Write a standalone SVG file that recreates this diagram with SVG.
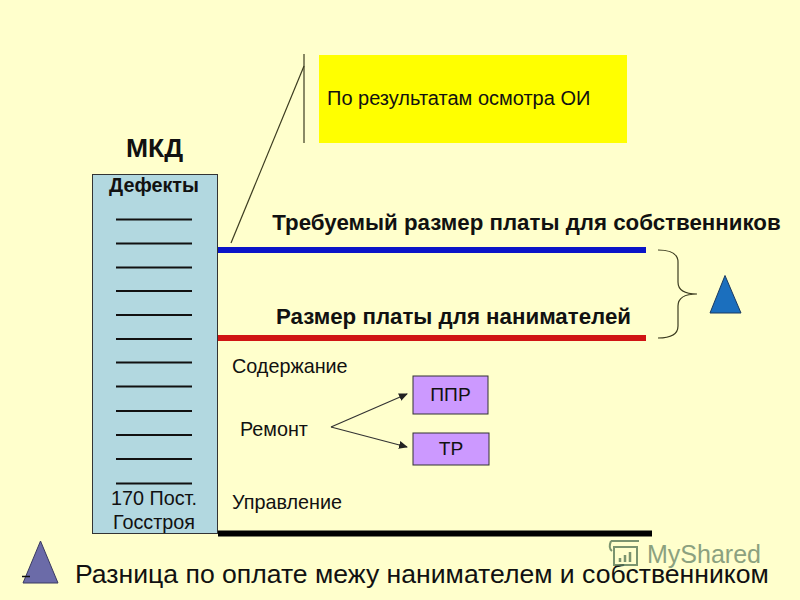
<svg xmlns="http://www.w3.org/2000/svg" width="800" height="600" viewBox="0 0 800 600">
<style>
text{font-family:"Liberation Sans",Arial,sans-serif;fill:#111}
.b{font-weight:bold}
.m{text-anchor:middle}
.l{font-size:19.800px}
.dash{stroke:#111;stroke-width:2}
.thin{stroke:#3c3c20;stroke-width:1.200;fill:none}
.box{fill:#cc99ff;stroke:#333;stroke-width:1}
.arr{stroke:#333;stroke-width:1.200;fill:none;marker-end:url(#ah)}
</style>
<defs>
<marker id="ah" markerWidth="9" markerHeight="8" refX="8" refY="4" orient="auto" markerUnits="userSpaceOnUse"><path d="M0 0L9 4L0 8z" fill="#222"/></marker>
</defs>
<rect width="800" height="600" fill="#ffffcc"/>
<g id="title-mkd"><text x="154.500" y="157" class="b m" font-size="26.500">МКД</text></g>
<g id="defects">
<rect x="92.500" y="174.500" width="125" height="359" fill="#b2d8e0" stroke="#333" stroke-width="1"/>
<text x="154" y="192" class="b m" font-size="19.800">Дефекты</text>
<path class="dash" d="M116 219.500H192M116 243.500H192M116 267.500H192M116 291H192M116 315H192M116 339H192M116 362.500H192M116 386.500H192M116 411H192M116 435H192M116 459H192M116 483.500H192"/>
<text x="154" y="505" class="m l">170 Пост.</text>
<text x="154" y="529" class="m l">Госстроя</text>
</g>
<g id="callout">
<rect x="319" y="55" width="308" height="88" fill="#ffff00"/>
<text x="327" y="105" font-size="20">По результатам осмотра ОИ</text>
</g>
<g id="label-required"><text x="526.500" y="230" class="b m" font-size="22.300">Требуемый размер платы для собственников</text></g>
<g id="label-tenants"><text x="453.500" y="324" class="b m" font-size="22.300">Размер платы для нанимателей</text></g>
<g id="label-content"><text x="232" y="373" class="l">Содержание</text></g>
<g id="label-repair"><text x="240" y="436" class="l">Ремонт</text></g>
<g id="label-manage"><text x="232" y="509" class="l">Управление</text></g>
<g id="ppr"><rect class="box" x="413" y="376" width="75" height="38"/><text x="450.500" y="401" class="m" font-size="19.200">ППР</text></g>
<g id="tr"><rect class="box" x="413" y="433" width="76" height="32"/><text x="451" y="455" class="m" font-size="19.200">ТР</text></g>
<g id="triangle-blue"><path d="M725 275.500L741 313H710z" fill="#1b6fbe" stroke="#1a3a60" stroke-width="1"/></g>
<g id="triangle-purple"><path d="M40.500 541L58 583H23z" fill="#6b6ba8" stroke="#3a3a60" stroke-width="1"/><path d="M22 576.500H30" stroke="#111" stroke-width="1.500"/></g>
<g id="label-diff"><text x="75" y="583" font-size="26.600">Разница по оплате межу нанимателем и собственником</text></g>
<g id="watermark" opacity="0.8">
<path d="M611 541H639M611 541Q608 548 612 551M614 547H637V565H614z" fill="none" stroke="#5b7a58" stroke-width="2"/>
<path d="M620 562V558M625 562V555M630 562V552" stroke="#5b7a58" stroke-width="2.500"/>
<text x="647" y="563" font-size="25" style="fill:#6f8a6c">MyShared</text>
</g>
<g id="connectors">
<path d="M218 250H646" stroke="#0a14c8" stroke-width="6" fill="none"/>
<path d="M218 338H646" stroke="#d01414" stroke-width="6" fill="none"/>
<path d="M218 533.500H652" stroke="#000" stroke-width="6" fill="none"/>
<path class="thin" d="M304 54V143"/>
<path class="thin" d="M304 66L231 243"/>
<path class="thin" d="M658 250Q678 250 678 262V282Q678 294 697 294Q678 294 678 306V326Q678 338 658 338"/>
<path class="arr" d="M331 427L407 394"/>
<path class="arr" d="M331 427L407 447"/>
</g>
</svg>
